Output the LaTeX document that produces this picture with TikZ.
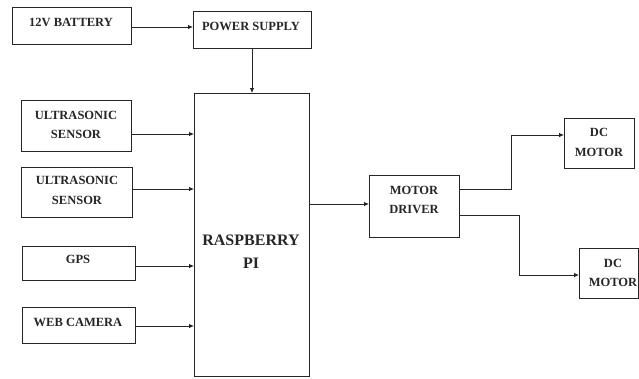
\documentclass[tikz,border=0pt]{standalone}
\usepackage{fontspec}
\setmainfont{Liberation Serif}
\usetikzlibrary{arrows.meta}
\tikzset{
  box/.style={draw=black!85, line width=0.9pt, rectangle, inner sep=0pt, outer sep=0pt},
  txt/.style={font=\fontsize{12.5}{19.5}\selectfont\bfseries, align=center, inner sep=0pt, text=black!85},
  bigtxt/.style={font=\fontsize{16}{23}\selectfont\bfseries, align=center, inner sep=0pt, text=black!85},
  arr/.style={draw=black!85, line width=0.8pt, -{Latex[length=5pt,width=4.5pt]}}
}
\begin{document}
\begin{tikzpicture}[x=1pt,y=-1pt]
\useasboundingbox[fill=white] (0,0) rectangle (639,378);
% boxes
\node[box, minimum width=119pt, minimum height=37pt] (bat) at (71.5,25.5) {};
\node[box, minimum width=118pt, minimum height=37pt] (ps) at (252,29.5) {};
\node[box, minimum width=115pt, minimum height=283pt] (rpi) at (251.5,234.5) {};
\node[box, minimum width=110pt, minimum height=51pt] (us1) at (76,125.5) {};
\node[box, minimum width=111pt, minimum height=50pt] (us2) at (76.5,192) {};
\node[box, minimum width=113pt, minimum height=34pt] (gps) at (78.5,263) {};
\node[box, minimum width=113pt, minimum height=36pt] (cam) at (78.5,325) {};
\node[box, minimum width=90pt, minimum height=62pt] (md) at (414,206) {};
\node[box, minimum width=70pt, minimum height=50pt] (dc1) at (599,143) {};
\node[box, minimum width=59pt, minimum height=50pt] (dc2) at (608.5,273) {};
% texts
\node[txt] (tbat) at (71,22.5) {12V BATTERY};
\node[txt] (tps) at (251,26) {POWER SUPPLY};
\node[bigtxt] (trpi) at (251,252) {RASPBERRY\\PI};
\node[txt] (tus1) at (76,125) {ULTRASONIC\\SENSOR};
\node[txt] (tus2) at (77,190.5) {ULTRASONIC\\SENSOR};
\node[txt] (tgps) at (78,259) {GPS};
\node[txt] (tcam) at (78,322) {WEB CAMERA};
\node[txt] (tmd) at (414,200) {MOTOR\\DRIVER};
\node[txt] (tdc1) at (599,142.5) {DC\\MOTOR};
\node[txt] (tdc2) at (613,273) {DC\\MOTOR};
% connectors
\draw[arr] (bat.east |- 0,27) -- (ps.west |- 0,27);
\draw[arr] (ps.south) -- (ps.south |- rpi.north);
\draw[arr] (us1.east |- 0,134) -- (rpi.west |- 0,134);
\draw[arr] (us2.east |- 0,189) -- (rpi.west |- 0,189);
\draw[arr] (gps.east |- 0,266) -- (rpi.west |- 0,266);
\draw[arr] (cam.east |- 0,326) -- (rpi.west |- 0,326);
\draw[arr] (rpi.east |- 0,204) -- (md.west |- 0,204);
\draw[arr] (md.east |- 0,189) -- (511,189) -- (511,135) -- (dc1.west |- 0,135);
\draw[arr] (md.east |- 0,215) -- (519,215) -- (519,275) -- (dc2.west |- 0,275);
\end{tikzpicture}
\end{document}
